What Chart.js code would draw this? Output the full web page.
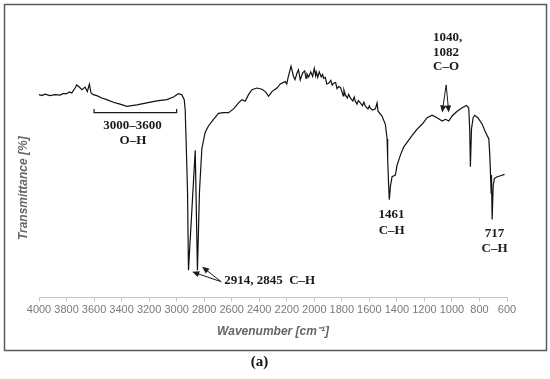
<!DOCTYPE html>
<html>
<head>
<meta charset="utf-8">
<script src="https://cdn.jsdelivr.net/npm/chart.js@4.4.1/dist/chart.umd.min.js"></script>
<style>
  html, body { margin: 0; padding: 0; background: #fff; }
  #wrap { position: relative; width: 550px; height: 379px; }
</style>
</head>
<body>
<div id="wrap"><canvas id="c" width="550" height="379"></canvas></div>
<script>
// Wavenumber (cm^-1)
const wavenumbers = [
  4000, 3978, 3956, 3920, 3884, 3847, 3825, 3799, 3780, 3762, 3738, 3726, 3707, 3689, 3665, 3649, 3634, 3622,
  3605, 3580, 3544, 3508, 3460, 3411, 3362, 3289, 3217, 3144, 3071, 3023, 2987, 2962, 2945, 2938, 2931, 2921,
  2914, 2865, 2849, 2834, 2817, 2793, 2769, 2732, 2696, 2660, 2623, 2587, 2550, 2526, 2502, 2478, 2453, 2417,
  2380, 2356, 2332, 2308, 2271, 2247, 2211, 2200, 2190, 2169, 2151, 2140, 2126, 2115, 2102, 2095, 2084, 2070,
  2060, 2053, 2040, 2026, 2012, 2000, 1990, 1985, 1975, 1964, 1950, 1940, 1932, 1920, 1910, 1896, 1880, 1870,
  1860, 1845, 1835, 1823, 1810, 1799, 1790, 1785, 1775, 1760, 1750, 1738, 1720, 1710, 1702, 1690, 1680, 1665,
  1650, 1640, 1629, 1610, 1600, 1593, 1575, 1556, 1544, 1537, 1508, 1484, 1471, 1467, 1460, 1455, 1447, 1435,
  1411, 1399, 1375, 1351, 1326, 1290, 1253, 1217, 1180, 1144, 1108, 1071, 1047, 1023, 999, 962, 926, 895,
  878, 871, 866, 858, 846, 834, 812, 780, 756, 732, 725, 720, 715, 713, 708, 700, 691, 671, 647, 618
];
// Transmittance (%, arbitrary scale)
const transmittance = [
  85.5, 85.1, 85.7, 85.1, 85.5, 85.3, 85.9, 85.9, 86.6, 86.2, 88.3, 89.6, 88.7, 87.6, 88.7, 86.8, 89.9, 86.2,
  85.5, 85.1, 84.1, 83.4, 82.3, 81.5, 80.6, 81.2, 82.0, 82.9, 83.4, 84.5, 85.9, 85.5, 83.4, 79.3, 65.6, 44.8,
  11.5, 62.0, 11.5, 44.8, 62.7, 69.6, 72.3, 75.1, 77.6, 77.9, 77.9, 79.5, 82.0, 83.4, 82.7, 85.5, 87.6, 88.3,
  87.8, 86.8, 84.8, 86.8, 88.3, 90.0, 91.0, 90.0, 92.8, 97.5, 93.1, 91.8, 94.5, 96.0, 91.7, 93.0, 94.7, 95.5,
  92.5, 94.2, 93.0, 95.1, 93.2, 96.6, 93.5, 95.0, 92.8, 95.1, 93.0, 94.0, 92.4, 92.8, 90.0, 90.3, 91.5, 89.5,
  90.3, 90.6, 88.0, 88.9, 88.5, 86.8, 85.0, 87.5, 85.5, 84.0, 85.6, 84.1, 82.8, 84.5, 82.7, 81.5, 83.0, 82.0,
  80.8, 82.3, 80.6, 79.5, 80.8, 79.7, 79.0, 79.5, 82.0, 78.5, 76.5, 73.0, 66.8, 58.5, 47.4, 41.2, 46.8, 50.9,
  51.6, 55.7, 59.9, 63.4, 65.4, 68.2, 71.0, 73.0, 75.8, 76.8, 75.8, 74.4, 75.1, 74.4, 76.5, 78.5, 80.0, 80.9,
  80.0, 71.0, 55.1, 71.0, 75.8, 76.8, 75.8, 73.0, 69.6, 66.8, 59.9, 52.3, 44.0, 51.6, 32.9, 47.4, 50.2, 50.9, 51.3, 51.9
];
// Axis ticks
const xMin = 600, xMax = 4000, xStep = 200;
const yMin = 0, yMax = 92.1;

const spectrum = wavenumbers.map((w, i) => ({ x: w, y: transmittance[i] }));

// Annotation anchors in data units
const annotations = [
  { text: '3000\u20133600', x: 3321, y: 72.3, align: 'center' },
  { text: 'O\u2013H', x: 3318, y: 66.1, align: 'center' },
  { text: '2914, 2845  C\u2013H', x: 2655, y: 7.1, align: 'left' },
  { text: '1461', x: 1440, y: 34.7, align: 'center' },
  { text: 'C\u2013H', x: 1438, y: 28.3, align: 'center' },
  { text: '717', x: 690, y: 27.0, align: 'center' },
  { text: 'C\u2013H', x: 690, y: 20.7, align: 'center' },
  { text: '1040,', x: 1137, y: 109.7, align: 'left' },
  { text: '1082', x: 1137, y: 103.4, align: 'left' },
  { text: 'C\u2013O', x: 1137, y: 97.2, align: 'left' }
];
const arrows = [
  { from: [2676, 6.6], to: [2887, 10.8] },
  { from: [2676, 6.6], to: [2815, 12.9] },
  { from: [1042, 89.6], to: [1071, 78.0] },
  { from: [1042, 89.6], to: [1023, 78.0] }
];
const bracket = { from: 3600, to: 3000, y: 77.9, tip: 79.5 };

const framePlugin = {
  id: 'frame',
  beforeDraw(chart) {
    const ctx = chart.ctx;
    ctx.save();
    ctx.fillStyle = '#ffffff';
    ctx.fillRect(0, 0, chart.width, chart.height);
    ctx.strokeStyle = '#5a5a5a';
    ctx.lineWidth = 1.5;
    ctx.strokeRect(4.5, 4.5, 542, 346);
    ctx.restore();
  }
};

const annotPlugin = {
  id: 'annot',
  afterDatasetsDraw(chart) {
    const ctx = chart.ctx;
    const xs = chart.scales.x, ys = chart.scales.y;
    const px = v => xs.getPixelForValue(v);
    const py = v => ys.getPixelForValue(v);
    ctx.save();
    ctx.fillStyle = '#1a1a1a';
    ctx.strokeStyle = '#1a1a1a';
    ctx.font = 'bold 13px "Liberation Serif", "DejaVu Serif", serif';
    ctx.textBaseline = 'middle';
    annotations.forEach(a => {
      ctx.textAlign = a.align;
      ctx.fillText(a.text, px(a.x), py(a.y));
    });
    // bracket
    ctx.lineWidth = 1.2;
    ctx.beginPath();
    ctx.moveTo(px(bracket.from), py(bracket.tip));
    ctx.lineTo(px(bracket.from), py(bracket.y));
    ctx.lineTo(px(bracket.to), py(bracket.y));
    ctx.lineTo(px(bracket.to), py(bracket.tip));
    ctx.stroke();
    // arrows
    arrows.forEach(a => {
      const x1 = px(a.from[0]), y1 = py(a.from[1]);
      const x2 = px(a.to[0]), y2 = py(a.to[1]);
      const ang = Math.atan2(y2 - y1, x2 - x1);
      const L = 7, W = 3;
      ctx.lineWidth = 1;
      ctx.beginPath();
      ctx.moveTo(x1, y1);
      ctx.lineTo(x2 - Math.cos(ang) * L * 0.8, y2 - Math.sin(ang) * L * 0.8);
      ctx.stroke();
      ctx.beginPath();
      ctx.moveTo(x2, y2);
      ctx.lineTo(x2 - Math.cos(ang) * L + Math.sin(ang) * W, y2 - Math.sin(ang) * L - Math.cos(ang) * W);
      ctx.lineTo(x2 - Math.cos(ang) * L - Math.sin(ang) * W, y2 - Math.sin(ang) * L + Math.cos(ang) * W);
      ctx.closePath();
      ctx.fill();
    });
    ctx.restore();
  }
};

new Chart(document.getElementById('c'), {
  type: 'line',
  data: {
    datasets: [{
      data: spectrum,
      borderColor: '#111111',
      borderWidth: 1.2,
      pointRadius: 0,
      tension: 0,
      fill: false,
      clip: false
    }]
  },
  options: {
    responsive: false,
    animation: false,
    layout: { padding: { left: 12, right: 43, top: 79, bottom: 4 } },
    plugins: {
      legend: { display: false },
      tooltip: { enabled: false },
      title: {
        display: true,
        position: 'bottom',
        text: '(a)',
        color: '#111',
        font: { family: '"Liberation Serif", serif', size: 15, weight: 'bold' },
        padding: { top: 10, bottom: 4 }
      }
    },
    scales: {
      x: {
        type: 'linear',
        reverse: true,
        min: xMin,
        max: xMax,
        grid: { display: true, drawOnChartArea: false, drawTicks: true, tickLength: 4, color: '#c4c4c4' },
        border: { display: true, color: '#c4c4c4', width: 1 },
        ticks: {
          stepSize: xStep,
          autoSkip: false,
          maxRotation: 0,
          minRotation: 0,
          padding: 2,
          color: '#7a7a7a',
          font: { family: '"Liberation Sans", Arial, sans-serif', size: 11 },
          callback: v => String(v)
        },
        title: {
          display: true,
          text: 'Wavenumber [cm\u207B\u00B9]',
          color: '#666666',
          font: { family: '"Liberation Sans", Arial, sans-serif', size: 12, weight: 'bold', style: 'italic' },
          padding: { top: 6, bottom: 4 }
        }
      },
      y: {
        type: 'linear',
        min: yMin,
        max: yMax,
        grid: { display: false, drawTicks: false },
        border: { display: false },
        ticks: { display: false },
        title: {
          display: true,
          text: 'Transmittance [%]',
          color: '#666666',
          font: { family: '"Liberation Sans", Arial, sans-serif', size: 12, weight: 'bold', style: 'italic' },
          padding: { top: 4, bottom: 8.6 }
        }
      }
    }
  },
  plugins: [framePlugin, annotPlugin]
});
</script>
</body>
</html>
